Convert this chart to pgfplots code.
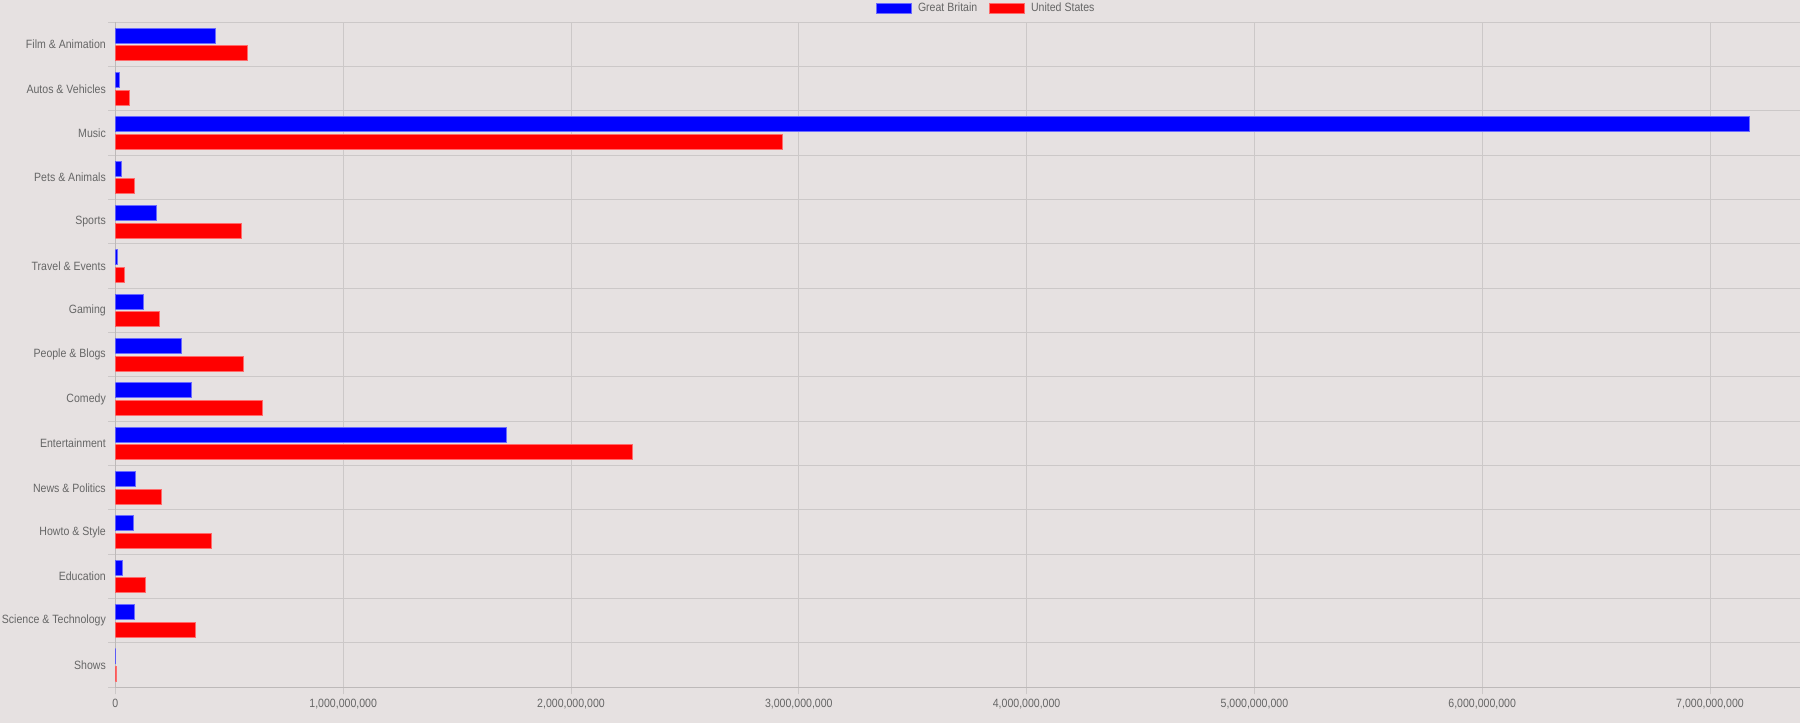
\documentclass[border=0pt]{standalone}
\usepackage{fontspec}
\setmainfont{Liberation Sans}
\usepackage{graphicx}
\usepackage{pgfplots}
\usepackage{pgfplotstable}
\pgfplotsset{compat=1.18}
\usetikzlibrary{calc,backgrounds}
\definecolor{bg}{HTML}{E6E1E1}
\definecolor{txt}{HTML}{666666}
\definecolor{gridc}{HTML}{CCC8C8}
\definecolor{axc}{HTML}{BDB9B9}
\definecolor{gbfill}{HTML}{0000FF}
\definecolor{gbline}{HTML}{6B6BFF}
\definecolor{usfill}{HTML}{FF0000}
\definecolor{usline}{HTML}{FF6B6B}
\newcommand\sq[1]{\scalebox{0.88}[1]{#1}}
\pgfplotstableread{
y gb us
14 0.4386e9 0.581e9
13 0.020e9 0.061e9
12 7.175e9 2.929e9
11 0.0275e9 0.0817e9
10 0.181e9 0.554e9
9 0.0114e9 0.042e9
8 0.124e9 0.193e9
7 0.289e9 0.563e9
6 0.336e9 0.647e9
5 1.716e9 2.268e9
4 0.0904e9 0.203e9
3 0.0786e9 0.424e9
2 0.029e9 0.131e9
1 0.0817e9 0.352e9
0 0.002e9 0.003e9
}\datatable
\begin{document}
\begin{tikzpicture}
\begin{axis}[
  xbar, bar width=15bp,
  scale only axis, width=1684.6bp, height=665bp,
  xmin=0, xmax=7.395e9, ymin=-0.5, ymax=14.5,
  axis x line*=bottom, axis y line*=left,
  axis line style={-, draw=axc, line width=1bp},
  xtick={0,1e9,2e9,3e9,4e9,5e9,6e9,7e9},
  xticklabels={{\sq{0}},{\sq{1,000,000,000}},{\sq{2,000,000,000}},{\sq{3,000,000,000}},{\sq{4,000,000,000}},{\sq{5,000,000,000}},{\sq{6,000,000,000}},{\sq{7,000,000,000}}},
  ytick={-0.5,0.5,...,14.5},
  yticklabel=\empty,
  extra y ticks={0,1,2,3,4,5,6,7,8,9,10,11,12,13,14},
  extra y tick labels={{\sq{Shows}},{\sq{Science \& Technology}},{\sq{Education}},{\sq{Howto \& Style}},{\sq{News \& Politics}},{\sq{Entertainment}},{\sq{Comedy}},{\sq{People \& Blogs}},{\sq{Gaming}},{\sq{Travel \& Events}},{\sq{Sports}},{\sq{Pets \& Animals}},{\sq{Music}},{\sq{Autos \& Vehicles}},{\sq{Film \& Animation}}},
  extra y tick style={grid=none, major tick length=0pt, tick style={draw=none},
    yticklabel style={font=\fontsize{12bp}{14bp}\selectfont, text=txt, inner sep=0pt, anchor=east, xshift=-9.4bp}},
  xmajorgrids, ymajorgrids,
  grid style={draw=gridc, line width=1bp},
  tick align=outside, major tick length=7bp,
  tick style={draw=gridc, line width=1bp},
  xticklabel style={font=\fontsize{12bp}{14bp}\selectfont, text=txt, inner sep=0pt, anchor=base, yshift=-13.5bp},
  scaled x ticks=false,
  legend style={at={(0.5168,1)}, anchor=center, yshift=14.2bp, draw=none, fill=none,
    font=\fontsize{12bp}{14bp}\selectfont, text=txt, inner sep=0pt,
    /tikz/every odd column/.append style={column sep=4bp},
    /tikz/every even column/.append style={column sep=9.3bp}},
  legend columns=2,
  legend cell align=left,
]
\coordinate (O) at (rel axis cs:0,0);
\addplot[fill=gbfill, draw=gbline, line width=1bp, bar shift=8.8bp,
  legend image code/.code={\draw[fill=gbfill, draw=gbline, line width=1bp] (0bp,-5bp) rectangle (35.5bp,5bp);}]
  table[x=gb, y=y]{\datatable};
\addplot[fill=usfill, draw=usline, line width=1bp, bar shift=-8.8bp,
  legend image code/.code={\draw[fill=usfill, draw=usline, line width=1bp] (0bp,-5bp) rectangle (35.5bp,5bp);}]
  table[x=us, y=y]{\datatable};
\legend{{\sq{Great Britain}},{\sq{United States}}}
\end{axis}
\pgfresetboundingbox
\begin{pgfonlayer}{background}
\fill[bg] ($(O)+(-115.4bp,-35.7bp)$) rectangle ($(O)+(1684.6bp,687.3bp)$);
\end{pgfonlayer}
\path[use as bounding box] ($(O)+(-115.4bp,-35.7bp)$) rectangle ($(O)+(1684.6bp,687.3bp)$);
\end{tikzpicture}
\end{document}
